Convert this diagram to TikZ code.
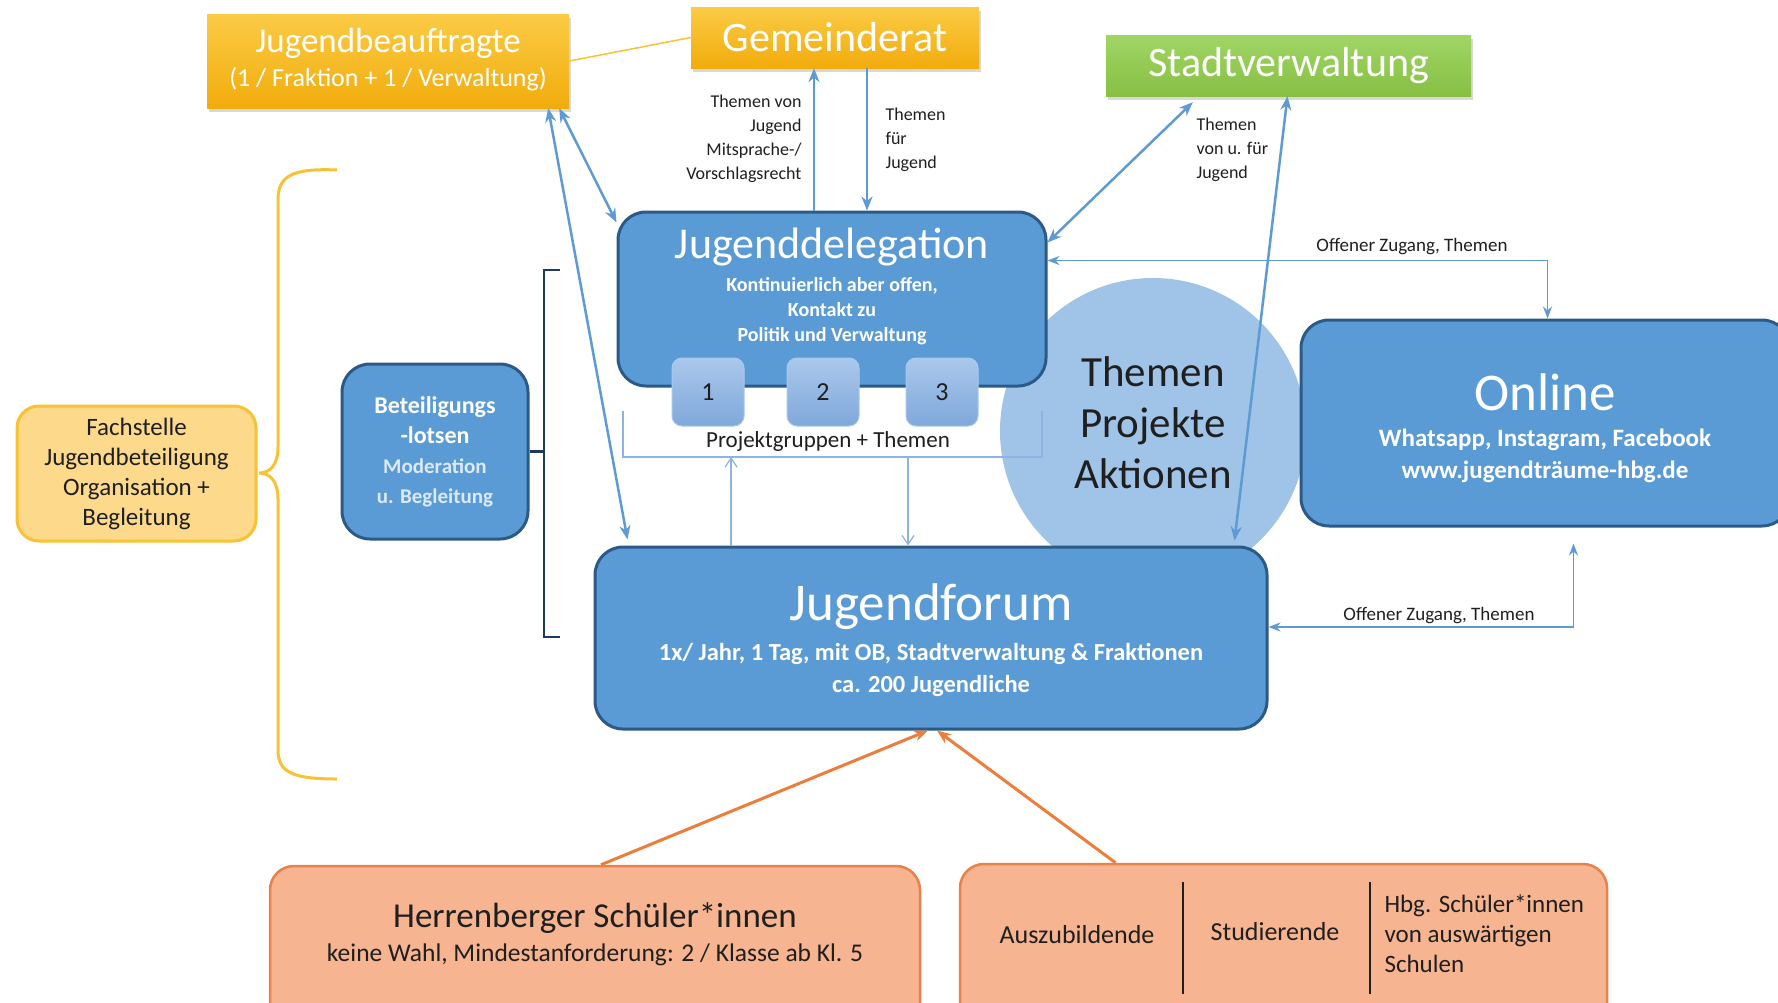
\documentclass[tikz,border=0pt]{standalone}
\usepackage{fontspec}
\setmainfont{Carlito}
\usepackage{tikz}
\usetikzlibrary{arrows.meta,shadows,positioning}

\definecolor{cBlue}{HTML}{5B9BD5}
\definecolor{cBlueEdge}{HTML}{2C5A86}
\definecolor{cArrow}{HTML}{5E9AD3}
\definecolor{cThin}{HTML}{8DB3E2}
\definecolor{cGoldTop}{HTML}{FBCB45}
\definecolor{cGoldBot}{HTML}{F1AC0C}
\definecolor{cGreenTop}{HTML}{A0D565}
\definecolor{cGreenBot}{HTML}{86C043}
\definecolor{cFsFill}{HTML}{FDD98C}
\definecolor{cFsEdge}{HTML}{F8C232}
\definecolor{cSalmon}{HTML}{F6B490}
\definecolor{cSalmonEdge}{HTML}{E8824C}
\definecolor{cOrange}{HTML}{EC7D3A}
\definecolor{cCircle}{HTML}{A0C3E8}
\definecolor{cNumTop}{HTML}{AAC8EC}
\definecolor{cNumBot}{HTML}{7FA8DA}
\definecolor{cNavy}{HTML}{1E3A5C}
\definecolor{cText}{HTML}{1F1F1F}
\definecolor{cLight}{HTML}{DCE9F7}

\newcommand{\fsize}[2]{\fontsize{#1}{#2}\selectfont}

\begin{document}
\begin{tikzpicture}[x=1pt,y=-1pt,
    goldbox/.style={rectangle, top color=cGoldTop, bottom color=cGoldBot,
      drop shadow={opacity=0.3, shadow xshift=2pt, shadow yshift=-4pt}},
    greenbox/.style={rectangle, top color=cGreenTop, bottom color=cGreenBot,
      drop shadow={opacity=0.3, shadow xshift=2pt, shadow yshift=-4pt}},
    bluebox/.style={rectangle, rounded corners=28pt, fill=cBlue, draw=cBlueEdge, line width=3pt},
    numbox/.style={rectangle, rounded corners=10pt, top color=cNumTop, bottom color=cNumBot,
      draw=cNumTop, line width=1pt, minimum width=72pt, minimum height=68pt, text=cText,
      font=\fsize{26}{30}},
    salmonbox/.style={rectangle, rounded corners=24pt, fill=cSalmon, draw=cSalmonEdge, line width=2.5pt},
    whitetext/.style={text=white, align=center},
    darktext/.style={text=cText, align=center},
    bluearrow/.style={draw=cArrow, line width=2.5pt, >={Stealth[length=14pt,width=11pt]}},
    thinarrow/.style={draw=cArrow, line width=1.5pt, >={Stealth[length=12pt,width=9pt]}},
    hairarrow/.style={draw=cThin, line width=1.2pt, >={Straight Barb[length=9pt,width=12pt]}},
    orangearrow/.style={draw=cOrange, line width=3pt, >={Stealth[length=14pt,width=11pt]}},
    smalllabel/.style={text=cText, font=\fsize{18}{24}}
  ]
  \useasboundingbox[fill=white] (0,0) rectangle (1778,1002);

  % circle behind the boxes
  \node (TH) at (1153,431) [circle, fill=cCircle, minimum size=306pt, inner sep=0pt] {};

  % braces
  \draw[draw=cFsEdge, line width=3pt] (337,170) .. controls (292,168) and (278,176) .. (278,200)
    -- (278,447) .. controls (278,465) and (270,473) .. (259,473)
    .. controls (270,473) and (278,481) .. (278,499)
    -- (278,750) .. controls (278,772) and (292,779) .. (337,779);
  \draw[draw=cNavy, line width=2.5pt] (560,270) -- (544,270) -- (544,637) -- (560,637);

  % top boxes
  \node (JB) at (388,61) [goldbox, minimum width=362pt, minimum height=94pt] {};
  \node (JBt) at (388,43) [whitetext, font=\fsize{35}{40}] {Jugendbeauftragte};
  \node (JBs) at (388,79) [whitetext, font=\fsize{26}{30}] {(1 / Fraktion + 1 / Verwaltung)};
  \node (GR) at (835,37.5) [goldbox, whitetext, minimum width=288pt, minimum height=61pt,
    font=\fsize{42}{46}] {Gemeinderat};
  \node (SV) at (1288.5,65.5) [greenbox, whitetext, minimum width=365pt, minimum height=61pt,
    font=\fsize{42}{46}] {Stadtverwaltung};
  \draw[draw=cFsEdge, line width=1.5pt] (JB.east) -- (GR.west);

  % left side
  \node (FS) at (136.5,473.5) [rectangle, rounded corners=22pt, fill=cFsFill, draw=cFsEdge,
    line width=3pt, minimum width=239pt, minimum height=135pt, darktext,
    font=\fsize{25}{30}] {Fachstelle\\Jugendbeteiligung\\Organisation +\\Begleitung};
  \node (BL) at (435,451.5) [bluebox, whitetext, minimum width=186pt, minimum height=175pt,
    font=\bfseries\fsize{24}{30}]
    {Beteiligungs\\-lotsen\\{\color{cLight}\fsize{21}{30}Moderation}\\{\color{cLight}\fsize{21}{30}u. Begleitung}};
  \draw[draw=cNavy, line width=2.5pt] (BL.east) -- (544,451.5);

  % Jugenddelegation
  \node (JD) at (832,299) [bluebox, minimum width=428pt, minimum height=174pt] {};
  \node (JDt) at (832,247) [whitetext, font=\fsize{44}{48}] {Jugenddelegation};
  \node (JDs) at (832,311) [whitetext, font=\bfseries\fsize{20}{25}]
    {Kontinuierlich aber offen,\\Kontakt zu\\Politik und Verwaltung};
  \node (P1) at (708,392) [numbox] {1};
  \node (P2) at (823,392) [numbox] {2};
  \node (P3) at (942,392) [numbox] {3};
  \draw[draw=cThin, line width=1.2pt] (623,411) -- (623,457) -- (1042,457) -- (1042,411);
  \node (PGt) at (828,441) [darktext, font=\fsize{23}{26}] {Projektgruppen + Themen};
  \coordinate (PGa) at (731,457);
  \coordinate (PGb) at (908,457);

  \node (THt) at (1153,423) [darktext, font=\fsize{43}{51}] {Themen\\Projekte\\Aktionen};

  % Online
  \node (ON) at (1545.5,423) [bluebox, minimum width=489pt, minimum height=206pt] {};
  \node (ONt) at (1545,392) [whitetext, font=\fsize{53}{58}] {Online};
  \node (ONs) at (1545,456) [whitetext, font=\bfseries\fsize{25}{32}]
    {Whatsapp, Instagram, Facebook\\www.jugendträume-hbg.de};

  % Jugendforum
  \node (JF) at (931,638) [bluebox, minimum width=672pt, minimum height=182pt] {};
  \node (JFt) at (931,607) [whitetext, font=\fsize{53}{58}] {Jugendforum};
  \node (JFs) at (931,670) [whitetext, font=\bfseries\fsize{24.5}{32}]
    {1x/ Jahr, 1 Tag, mit OB, Stadtverwaltung \& Fraktionen\\ca. 200 Jugendliche};

  % bottom boxes
  \node (HS) at (595,948) [salmonbox, minimum width=650pt, minimum height=164pt] {};
  \node (HSt) at (595,918) [darktext, font=\fsize{35}{40}] {Herrenberger Schüler*innen};
  \node (HSs) at (595,955) [darktext, font=\fsize{25.5}{28}]
    {keine Wahl, Mindestanforderung: 2 / Klasse ab Kl. 5};
  \node (RB) at (1283.5,947) [salmonbox, minimum width=647pt, minimum height=166pt] {};
  \draw[draw=cText, line width=1.8pt] (1183,882) -- (1183,994);
  \draw[draw=cText, line width=1.8pt] (1370,882) -- (1370,994);
  \node (AZ) at (1077,935) [darktext, font=\fsize{26}{30}] {Auszubildende};
  \node (ST) at (1275,932) [darktext, font=\fsize{26}{30}] {Studierende};
  \node (HB) at (1381,934) [anchor=west, text=cText, align=left, font=\fsize{25}{30}]
    {Hbg. Schüler*innen\\von auswärtigen\\Schulen};

  % connectors
  \draw[bluearrow, <->] ([xshift=-10pt]JB.south east) -- ([yshift=-12pt]JD.north west);
  \draw[bluearrow, <->] ([xshift=-21pt]JB.south east) -- ([xshift=34pt,yshift=6pt]JF.north west);
  \draw[bluearrow, ->] ([xshift=-18pt]JD.north) -- ([xshift=-21pt]GR.south);
  \draw[bluearrow, ->] ([xshift=32pt]GR.south) -- ([xshift=35pt]JD.north);
  \draw[bluearrow, <->] ([xshift=87pt,yshift=-6pt]SV.south west) -- ([yshift=-32pt]JD.north east);
  \draw[bluearrow, <->] ([xshift=-1pt]SV.south) -- ([xshift=-34pt,yshift=5pt]JF.north east);
  \draw[thinarrow, <->] ([yshift=-50pt]JD.north east) -| ([xshift=2pt]ON.north);
  \draw[thinarrow, <->] ([xshift=28pt,yshift=-16pt]ON.south) |- ([yshift=11pt]JF.east);
  \draw[hairarrow, ->] ([xshift=-200pt]JF.north) -- (PGa);
  \draw[hairarrow, ->] (PGb) -- ([xshift=-23pt]JF.north);
  \draw[orangearrow, ->] ([xshift=6pt]HS.north) -- ([xshift=-3pt]JF.south);
  \draw[orangearrow, ->] ([xshift=-168pt]RB.north) -- ([xshift=6pt]JF.south);

  % labels
  \node (L1) at (805,139) [smalllabel, anchor=east, align=right]
    {Themen von\\Jugend\\Mitsprache-/\\Vorschlagsrecht};
  \node (L2) at (882,140) [smalllabel, anchor=west, align=left] {Themen\\für\\Jugend};
  \node (L3) at (1193,150) [smalllabel, anchor=west, align=left] {Themen\\von u. für\\Jugend};
  \node (L4) at (1412,247) [smalllabel, font=\fsize{19}{22}] {Offener Zugang, Themen};
  \node (L5) at (1439,616) [smalllabel, font=\fsize{19}{22}] {Offener Zugang, Themen};
\end{tikzpicture}
\end{document}
